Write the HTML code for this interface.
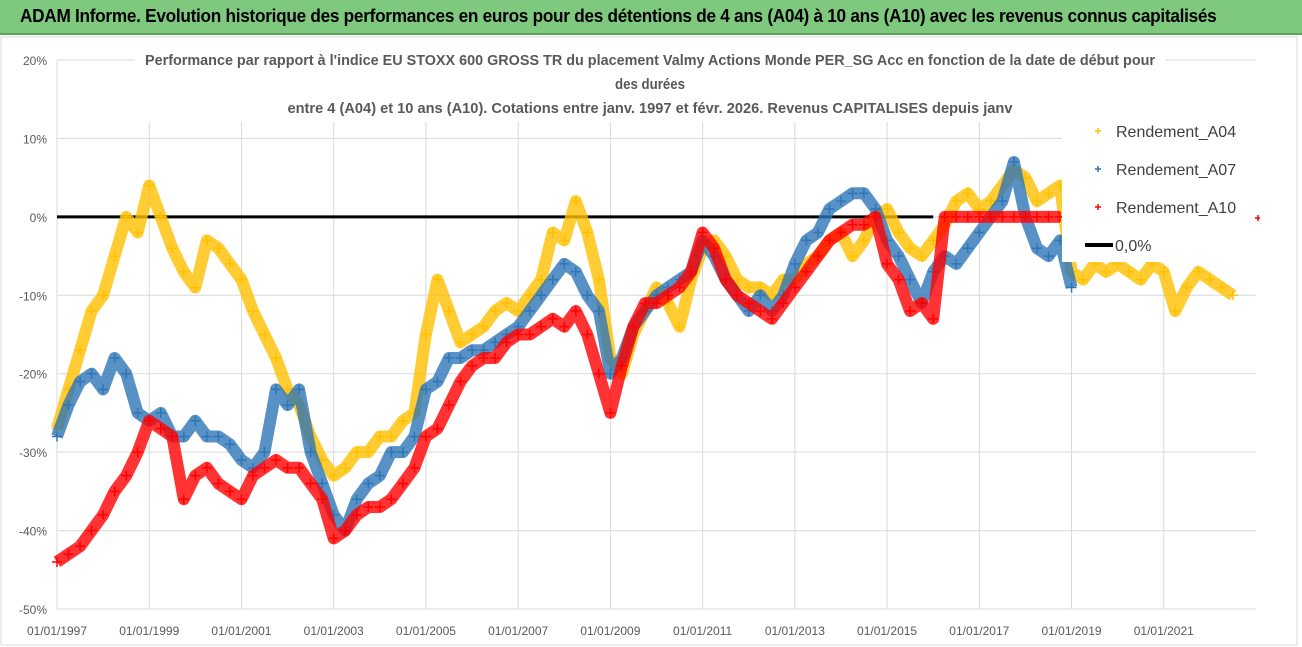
<!DOCTYPE html>
<html><head><meta charset="utf-8"><style>
body{margin:0;width:1302px;height:647px;background:#fff;overflow:hidden;font-family:"Liberation Sans",sans-serif}
#hdr{position:absolute;left:0;top:0;width:1302px;height:33px;background:#7fc97f;border-bottom:2px solid #5aa55a}
#hdr span{position:absolute;left:20px;top:5px;font-size:18.5px;font-weight:bold;color:#000;letter-spacing:-0.3px;white-space:nowrap;transform:scaleX(0.93);transform-origin:left}
svg{position:absolute;left:0;top:0}
</style></head><body>
<div id="hdr"><span>ADAM Informe. Evolution historique des performances en euros pour des détentions de 4 ans (A04) à 10 ans (A10) avec les revenus connus capitalisés</span></div>
<svg id="chart" width="1302" height="647"></svg>
<script>
const yTicks=[20,10,0,-10,-20,-30,-40,-50];
const xTickYears=[1997,1999,2001,2003,2005,2007,2009,2011,2013,2015,2017,2019,2021];
const xTickLabels=["01/01/1997","01/01/1999","01/01/2001","01/01/2003","01/01/2005","01/01/2007","01/01/2009","01/01/2011","01/01/2013","01/01/2015","01/01/2017","01/01/2019","01/01/2021"];
const startYear=1997, step=0.25;
const a04=[-27,-22,-17,-12,-10,-5,0,-2,4,0,-4,-7,-9,-3,-4,-6,-8,-12,-15,-18,-22,-24,-28,-31,-33,-32,-30,-30,-28,-28,-26,-25,-15,-8,-12,-16,-15,-14,-12,-11,-12,-10,-8,-2,-3,2,-2,-8,-18,-20,-15,-12,-9,-11,-14,-8,-4,-3,-5,-8,-9,-9,-10,-8,-8,-6,-5,-3,-2,-5,-3,0,1,-2,-4,-5,-3,-1,2,3,1,2,4,6,5,2,3,4,-7,-8,-6,-7,-6,-7,-8,-6,-7,-12,-9,-7,-8,-9,-10];
const a07=[-28,-24,-21,-20,-22,-18,-20,-25,-26,-25,-28,-28,-26,-28,-28,-29,-31,-32,-30,-22,-24,-22,-30,-34,-38,-40,-36,-34,-33,-30,-30,-28,-22,-21,-18,-18,-17,-17,-16,-15,-14,-12,-10,-8,-6,-7,-10,-12,-20,-18,-14,-12,-10,-9,-8,-7,-3,-5,-8,-10,-12,-10,-12,-10,-6,-3,-2,1,2,3,3,1,-3,-5,-8,-11,-7,-5,-6,-4,-2,0,2,7,0,-4,-5,-3,-9];
const a10=[-44,-43,-42,-40,-38,-35,-33,-30,-26,-27,-28,-36,-33,-32,-34,-35,-36,-33,-32,-31,-32,-32,-34,-36,-41,-40,-38,-37,-37,-36,-34,-32,-28,-27,-24,-21,-19,-18,-18,-16,-15,-15,-14,-13,-14,-12,-15,-20,-25,-19,-14,-11,-11,-10,-9,-7,-2,-4,-8,-10,-11,-12,-13,-11,-9,-7,-5,-3,-2,-1,-1,0,-6,-8,-12,-11,-13,0,0,0,0,0,0,0,0,0,0,0];
const seriesNames=["Rendement_A04","Rendement_A07","Rendement_A10"];
const colors=["#ffc000","#2e75b6","#ff0000"];

const svg=document.getElementById('chart');
const NS='http://www.w3.org/2000/svg';
const L=57,R=1256,T=60,B=609;
const xScale=yr=>L+(yr-1997)*(R-L)/(2023-1997);
const yScale=v=>T+(20-v)*(B-T)/70;
function mk(tag,attrs){const e=document.createElementNS(NS,tag);for(const k in attrs)e.setAttribute(k,attrs[k]);svg.appendChild(e);return e;}
let fr=mk('rect',{x:1,y:37,width:1296,height:608,fill:'none',stroke:'#d9d9d9'});


yTicks.forEach(v=>{
  const g=mk('line',{x1:L,x2:R,y1:yScale(v),y2:yScale(v),stroke:'#d9d9d9','stroke-width':1});
  
  
  const t=mk('text',{x:47,y:yScale(v)+5,'text-anchor':'end','font-size':12,fill:'#595959','font-family':'Liberation Sans, sans-serif'});
  t.textContent=v+'%';
  
  
});
xTickYears.forEach((yr,i)=>{
  const g=mk('line',{x1:xScale(yr),x2:xScale(yr),y1:T,y2:B,stroke:'#d9d9d9','stroke-width':1});
  
  
  const t=mk('text',{x:xScale(yr),y:635,'text-anchor':'middle','font-size':12,fill:'#595959','font-family':'Liberation Sans, sans-serif'});
  t.textContent=xTickLabels[i];
  
  
});
const z=mk('line',{x1:L,x2:xScale(2016),y1:yScale(0),y2:yScale(0),stroke:'#000','stroke-width':3});


[a04,a07,a10].forEach((arr,si)=>{
  const g=mk('g',{});
  
  
  const pts=arr.map((v,i)=>xScale(startYear+i*step).toFixed(1)+','+yScale(v).toFixed(1)).join(' ');
  const pl=document.createElementNS(NS,'polyline');
  pl.setAttribute('points',pts);pl.setAttribute('fill','none');pl.setAttribute('stroke',colors[si]);
  pl.setAttribute('stroke-width',12);pl.setAttribute('stroke-linejoin','round');pl.setAttribute('opacity','0.8');
  
  
  g.appendChild(pl);
  arr.forEach((v,i)=>{
    const x=xScale(startYear+i*step),y=yScale(v);
    const p=document.createElementNS(NS,'path');
    p.setAttribute('d',`M${x-5},${y}H${x+5}M${x},${y-5}V${y+5}`);
    p.setAttribute('stroke',colors[si]);p.setAttribute('stroke-width',1.5);
    
    
    g.appendChild(p);
  });
});
const tb=mk('rect',{x:135,y:46,width:1030,height:76,fill:'#fff'});


["Performance par rapport à l'indice EU STOXX 600 GROSS TR  du placement Valmy Actions Monde PER_SG Acc en fonction de la date de début pour","des durées","entre 4 (A04) et 10 ans (A10).  Cotations entre janv. 1997 et févr. 2026. Revenus CAPITALISES depuis janv"].forEach((s,i)=>{
  const t=mk('text',{x:650,y:65+i*24,'text-anchor':'middle','font-size':14.5,'font-weight':'bold',fill:'#595959','font-family':'Liberation Sans, sans-serif','textLength':i==1?70:(i==0?1010:725),lengthAdjust:'spacingAndGlyphs'});
  t.textContent=s;
  
  
});
const lb=mk('rect',{x:1062,y:112,width:195,height:150,fill:'#fff'});


seriesNames.forEach((n,i)=>{
  const y=131+i*38;
  const p=mk('path',{d:`M1095,${y}h6M1098,${y-3}v6`,stroke:colors[i],'stroke-width':1.5});
  
  
  const t=mk('text',{x:1116,y:y+6,'font-size':16,fill:'#404040','font-family':'Liberation Sans, sans-serif'});
  t.textContent=n;
  
  
});
const ll=mk('line',{x1:1085,x2:1113,y1:245,y2:245,stroke:'#000','stroke-width':4});


const lt=mk('text',{x:1115,y:251,'font-size':16,fill:'#404040','font-family':'Liberation Sans, sans-serif'});
lt.textContent='0,0%';


const rm=mk('path',{d:'M1255,218h5M1258,215v6',stroke:'#ff0000','stroke-width':1.5});


</script>
</body></html>
